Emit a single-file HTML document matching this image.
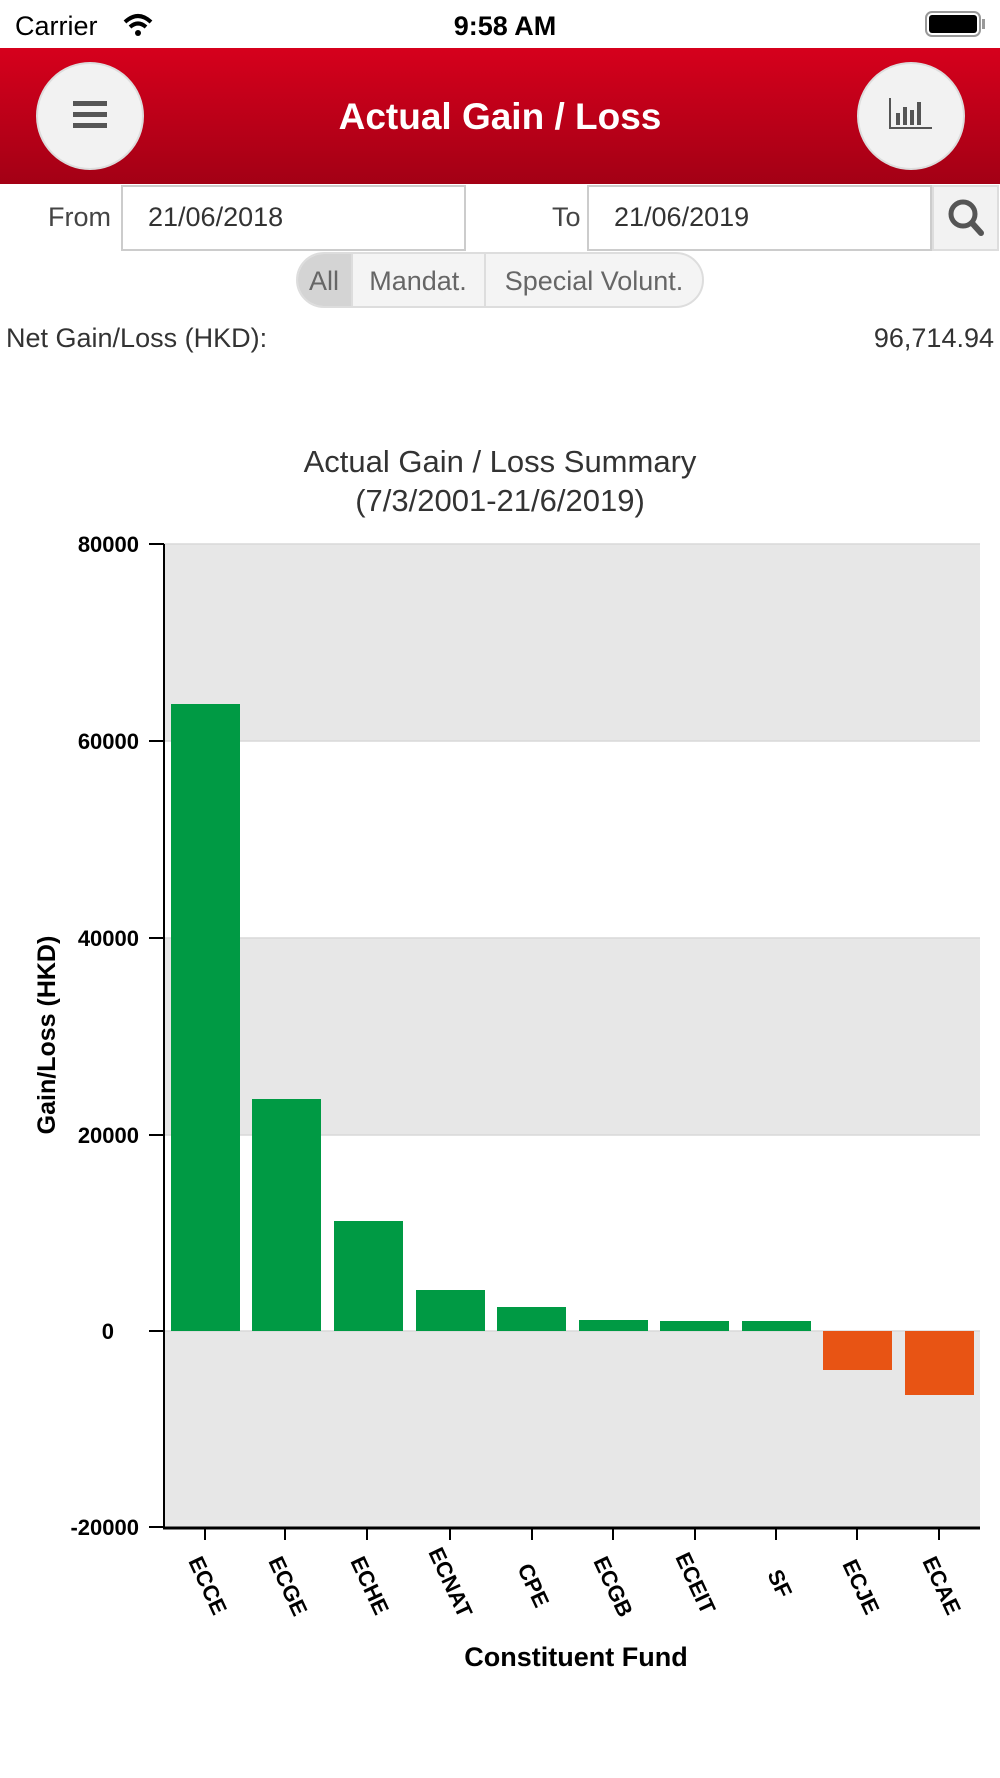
<!DOCTYPE html>
<html><head><meta charset="utf-8"><style>
html,body{margin:0;padding:0;background:#fff}
svg{display:block}
text{font-family:"Liberation Sans",sans-serif}
</style></head><body>
<svg width="1000" height="1778" viewBox="0 0 1000 1778" xmlns="http://www.w3.org/2000/svg">
<defs>
<linearGradient id="hd" x1="0" y1="0" x2="0" y2="1">
<stop offset="0" stop-color="#d6001c"/><stop offset="1" stop-color="#a30015"/></linearGradient>
</defs>
<rect width="1000" height="1778" fill="#fff"/>
<text x="15" y="35" font-size="27" fill="#000">Carrier</text>
<path d="M125 22 q13 -12 26 0 M130 27 q8 -7 16 0" stroke="#000" stroke-width="4" fill="none"/>
<circle cx="138" cy="33" r="3" fill="#000"/>
<text x="505" y="35" font-size="27" font-weight="bold" text-anchor="middle" fill="#000">9:58 AM</text>
<rect x="926" y="12" width="54" height="24" rx="6" fill="none" stroke="#999" stroke-width="2"/>
<rect x="929" y="15" width="48" height="18" rx="3" fill="#000"/>
<rect x="982" y="19" width="3" height="10" fill="#999"/>
<rect x="0" y="48" width="1000" height="136" fill="url(#hd)"/>
<circle cx="90" cy="116" r="53" fill="#f2f2f2" stroke="#ddd" stroke-width="2"/>
<rect x="73" y="101" width="34" height="5" fill="#555"/><rect x="73" y="112" width="34" height="5" fill="#555"/><rect x="73" y="123" width="34" height="5" fill="#555"/>
<circle cx="911" cy="116" r="53" fill="#f2f2f2" stroke="#ddd" stroke-width="2"/>
<path d="M890 98 v30 h42" stroke="#555" stroke-width="2" fill="none"/>
<rect x="896" y="113" width="4" height="12" fill="#555"/><rect x="903" y="107" width="4" height="18" fill="#555"/><rect x="910" y="110" width="4" height="15" fill="#555"/><rect x="917" y="102" width="4" height="23" fill="#555"/>
<text x="500" y="129" font-size="37" font-weight="bold" fill="#fff" text-anchor="middle">Actual Gain / Loss</text>
<text x="48" y="226" font-size="27" fill="#444">From</text>
<rect x="122" y="186" width="343" height="64" fill="#fff" stroke="#ccc" stroke-width="2"/>
<text x="148" y="226" font-size="27" fill="#333">21/06/2018</text>
<text x="552" y="226" font-size="27" fill="#444">To</text>
<rect x="588" y="186" width="343" height="64" fill="#fff" stroke="#ccc" stroke-width="2"/>
<text x="614" y="226" font-size="27" fill="#333">21/06/2019</text>
<rect x="933" y="186" width="65" height="64" fill="#f2f2f2" stroke="#ddd" stroke-width="2"/>
<circle cx="963" cy="214" r="12" fill="none" stroke="#555" stroke-width="5"/>
<path d="M972 223 l9 10" stroke="#555" stroke-width="6" stroke-linecap="round"/>
<rect x="297" y="253" width="406" height="54" rx="27" fill="#f4f4f4" stroke="#ddd" stroke-width="2"/>
<path d="M352 254 h-28 a26 26 0 0 0 0 52 h28 z" fill="#d4d4d4"/>
<line x1="352" y1="254" x2="352" y2="306" stroke="#ddd" stroke-width="2"/>
<line x1="485" y1="254" x2="485" y2="306" stroke="#ddd" stroke-width="2"/>
<text x="324" y="290" font-size="27" fill="#666" text-anchor="middle">All</text>
<text x="418" y="290" font-size="27" fill="#666" text-anchor="middle">Mandat.</text>
<text x="594" y="290" font-size="27" fill="#666" text-anchor="middle">Special Volunt.</text>
<text x="6" y="347" font-size="27" fill="#333">Net Gain/Loss (HKD):</text>
<text x="994" y="347" font-size="27" fill="#333" text-anchor="end">96,714.94</text>
<text x="500" y="472" font-size="31" fill="#333" text-anchor="middle">Actual Gain / Loss Summary</text>
<text x="500" y="511" font-size="31" fill="#333" text-anchor="middle">(7/3/2001-21/6/2019)</text>
<rect x="164" y="544" width="816" height="197" fill="#e7e7e7"/>
<rect x="164" y="938" width="816" height="197" fill="#e7e7e7"/>
<rect x="164" y="1331" width="816" height="196" fill="#e7e7e7"/>
<g stroke="#d8d8d8" stroke-width="1.5">
<line x1="164" y1="544" x2="980" y2="544"/><line x1="164" y1="741" x2="980" y2="741"/>
<line x1="164" y1="938" x2="980" y2="938"/><line x1="164" y1="1135" x2="980" y2="1135"/>
<line x1="164" y1="1331" x2="980" y2="1331"/></g>
<g fill="#009a44">
<rect x="171" y="704" width="69" height="627"/>
<rect x="252" y="1099" width="69" height="232"/>
<rect x="334" y="1221" width="69" height="110"/>
<rect x="416" y="1290" width="69" height="41"/>
<rect x="497" y="1307" width="69" height="24"/>
<rect x="579" y="1320" width="69" height="11"/>
<rect x="660" y="1321" width="69" height="10"/>
<rect x="742" y="1321" width="69" height="10"/>
</g>
<g fill="#e85414">
<rect x="823" y="1331" width="69" height="39"/>
<rect x="905" y="1331" width="69" height="64"/>
</g>
<line x1="164" y1="544" x2="164" y2="1528" stroke="#000" stroke-width="2"/>
<line x1="163" y1="1528" x2="980" y2="1528" stroke="#000" stroke-width="3"/>
<g stroke="#000" stroke-width="2">
<line x1="149" y1="544" x2="164" y2="544"/><line x1="149" y1="741" x2="164" y2="741"/>
<line x1="149" y1="938" x2="164" y2="938"/><line x1="149" y1="1135" x2="164" y2="1135"/>
<line x1="149" y1="1331" x2="164" y2="1331"/><line x1="149" y1="1527" x2="164" y2="1527"/>
<line x1="205" y1="1528" x2="205" y2="1540"/><line x1="285" y1="1528" x2="285" y2="1540"/>
<line x1="367" y1="1528" x2="367" y2="1540"/><line x1="450" y1="1528" x2="450" y2="1540"/>
<line x1="532" y1="1528" x2="532" y2="1540"/><line x1="613" y1="1528" x2="613" y2="1540"/>
<line x1="695" y1="1528" x2="695" y2="1540"/><line x1="776" y1="1528" x2="776" y2="1540"/>
<line x1="857" y1="1528" x2="857" y2="1540"/><line x1="939" y1="1528" x2="939" y2="1540"/>
</g>
<g font-size="22" font-weight="bold" fill="#000" text-anchor="end">
<text x="139" y="552">80000</text><text x="139" y="749">60000</text>
<text x="139" y="946">40000</text><text x="139" y="1143">20000</text>
<text x="114" y="1339">0</text><text x="139" y="1535">-20000</text>
</g>
<text transform="translate(55,1035) rotate(-90)" font-size="25" font-weight="bold" text-anchor="middle">Gain/Loss (HKD)</text>
<g font-size="22" font-weight="bold" fill="#000">
<text transform="translate(188,1561) rotate(65)">ECCE</text>
<text transform="translate(268,1561) rotate(65)">ECGE</text>
<text transform="translate(350,1561) rotate(65)">ECHE</text>
<text transform="translate(428,1552) rotate(65)">ECNAT</text>
<text transform="translate(517,1568) rotate(65)">CPE</text>
<text transform="translate(593,1561) rotate(65)">ECGB</text>
<text transform="translate(675,1557) rotate(65)">ECEIT</text>
<text transform="translate(767,1574) rotate(65)">SF</text>
<text transform="translate(842,1564) rotate(65)">ECJE</text>
<text transform="translate(922,1561) rotate(65)">ECAE</text>
</g>
<text x="576" y="1666" font-size="27" font-weight="bold" text-anchor="middle">Constituent Fund</text>
</svg>
</body></html>
